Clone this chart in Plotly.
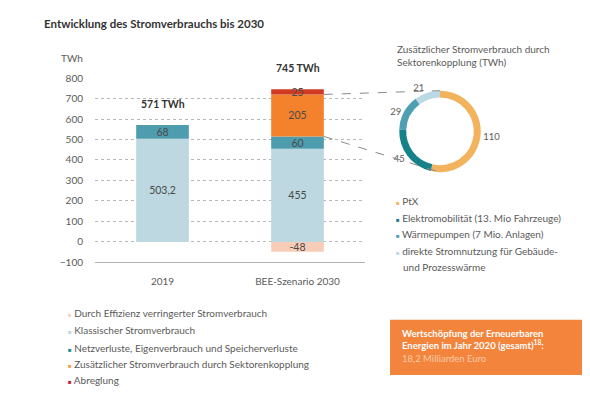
import plotly.graph_objects as go

# ---------------- data ----------------
categories = ["2019", "BEE-Szenario 2030"]
effizienz = [None, -48]
klassisch = [503.2, 455]
netz = [68, 60]
sektor = [None, 205]
abregelung = [None, 25]
y_tick_values = [-100, 0, 100, 200, 300, 400, 500, 600, 700, 800]

bar_series_names = [
    "Durch Effizienz verringerter Stromverbrauch",
    "Klassischer Stromverbrauch",
    "Netzverluste, Eigenverbrauch und Speicherverluste",
    "Zusätzlicher Stromverbrauch durch Sektorenkopplung",
    "Abreglung",
]

donut_labels = ["PtX", "Elektromobilität (13. Mio Fahrzeuge)",
                "Wärmepumpen (7 Mio. Anlagen)",
                "direkte Stromnutzung für Gebäude- und Prozesswärme"]
donut_values = [110, 45, 29, 21]

# ---------------- styling ----------------
PAGE_W, PAGE_H = 590, 410
OFF = 8                      # browser body margin
W, H = PAGE_W - OFF, PAGE_H - OFF
FONT = "Lato"
GRAY = "#5a5a5a"
bar_colors = ["#F7CDB8", "#BDD8E1", "#4E9DAF", "#F4822D", "#D13A22"]
legend_colors = ["#F5D5C5", "#BCD7E0", "#1D8A8F", "#F5A142", "#C0203A"]
donut_colors = ["#F3B35D", "#15818A", "#4F9FB3", "#BBD9E4"]


def px_x(p):
    return (p - OFF) / W


def px_y(p):
    return 1 - (p - OFF) / H


YMIN, YMAX = -100, 800
X_DOM = [px_x(95), px_x(365)]
Y_DOM = [px_y(263), px_y(73)]


def yval_to_paper(v):
    return Y_DOM[0] + (v - YMIN) / (YMAX - YMIN) * (Y_DOM[1] - Y_DOM[0])


def xval_to_paper(v):
    return X_DOM[0] + (v + 0.5) / 2.0 * (X_DOM[1] - X_DOM[0])


def fmt(v):
    return None if v is None else f"{v:g}".replace(".", ",")


BAR_W = 0.39
fig = go.Figure()
series = [effizienz, klassisch, netz, sektor, abregelung]
for name, vals, col in zip(bar_series_names, series, bar_colors):
    fig.add_trace(go.Bar(
        x=categories, y=vals, name=name, marker=dict(color=col, line=dict(width=0)),
        width=BAR_W, text=[fmt(v) for v in vals], textposition="inside",
        insidetextanchor="middle", constraintext="none",
        textfont=dict(family=FONT, size=10.5, color="#4a4a4a"),
        showlegend=False, hoverinfo="skip",
    ))

# donut
domain_x = [px_x(398), px_x(482)]
domain_y = [px_y(170), px_y(86)]
fig.add_trace(go.Pie(
    values=donut_values, labels=donut_labels, hole=0.83, sort=False,
    direction="clockwise", rotation=0, textposition="outside", textinfo="value",
    textfont=dict(family=FONT, size=9.5, color=GRAY),
    marker=dict(colors=donut_colors, line=dict(width=0)),
    domain=dict(x=domain_x, y=domain_y), showlegend=False, hoverinfo="skip",
))

annotations = []
# totals above bars
for i in range(len(categories)):
    tot = sum(v for v in (s[i] for s in series) if v is not None and v > 0)
    annotations.append(dict(x=i, y=tot, xref="x", yref="y", text=f"<b>{round(tot)} TWh</b>",
                            showarrow=False, yanchor="middle", yshift=21,
                            font=dict(family=FONT, size=10.5, color="#333")))

# title
annotations.append(dict(x=px_x(42), y=px_y(17), xref="paper", yref="paper", xanchor="left",
                        yanchor="middle", showarrow=False,
                        text="<b>Entwicklung des Stromverbrauchs bis 2030</b>",
                        font=dict(family=FONT, size=11.5, color="#333")))
# y unit
annotations.append(dict(x=px_x(85), y=px_y(52), xref="paper", yref="paper", xanchor="right",
                        yanchor="middle", showarrow=False, text="TWh",
                        font=dict(family=FONT, size=10, color=GRAY)))
# donut title
annotations.append(dict(x=px_x(395), y=px_y(35), xref="paper", yref="paper", xanchor="left",
                        yanchor="top", showarrow=False, align="left",
                        text="Zusätzlicher Stromverbrauch durch<br>Sektorenkopplung (TWh)",
                        font=dict(family=FONT, size=10, color=GRAY)))

# bar legend
rows_y = [315, 333, 351, 368, 384]
for name, col, ry in zip(bar_series_names, legend_colors, rows_y):
    annotations.append(dict(x=px_x(66), y=px_y(ry), xref="paper", yref="paper", xanchor="left",
                            yanchor="middle", showarrow=False,
                            text=f"<span style='color:{col};font-size:6px'>■</span> {name}",
                            font=dict(family=FONT, size=10, color=GRAY)))

# donut legend
d_rows = [200, 217, 234, 251]
for name, col, ry in zip(donut_labels, donut_colors, d_rows):
    first, _, rest = name.partition("Gebäude- ")
    if rest:
        first = first + "Gebäude-"
    annotations.append(dict(x=px_x(394), y=px_y(ry), xref="paper", yref="paper", xanchor="left",
                            yanchor="middle", showarrow=False,
                            text=f"<span style='color:{col};font-size:6px'>■</span> {first}",
                            font=dict(family=FONT, size=10, color=GRAY)))
    if rest:
        annotations.append(dict(x=px_x(401), y=px_y(ry + 17), xref="paper", yref="paper",
                                xanchor="left", yanchor="middle", showarrow=False, text=rest,
                                font=dict(family=FONT, size=10, color=GRAY)))

# orange box text
annotations.append(dict(x=px_x(400), y=px_y(329), xref="paper", yref="paper", xanchor="left",
                        yanchor="top", showarrow=False, align="left",
                        text="<b>Wertschöpfung der Erneuerbaren</b><br>"
                             "<b>Energien im Jahr 2020 (gesamt)<sup>18</sup>:</b><br>"
                             "<span style='color:#FCCBA8'>18,2 Milliarden Euro</span>",
                        font=dict(family=FONT, size=9.5, color="white")))

shapes = []
# orange box
shapes.append(dict(type="rect", xref="paper", yref="paper", x0=px_x(390), x1=1.0,
                   y0=px_y(379), y1=px_y(322), fillcolor="#F2843C", line=dict(width=0),
                   layer="below"))
# connector dashed lines from 2030 orange segment to donut
bar_right = xval_to_paper(1 + BAR_W / 2)
seg_bottom = klassisch[1] + netz[1]
seg_top = seg_bottom + sektor[1]
donut_cx = (domain_x[0] + domain_x[1]) / 2
shapes.append(dict(type="line", xref="paper", yref="paper", x0=bar_right, y0=yval_to_paper(seg_top),
                   x1=donut_cx, y1=domain_y[1], line=dict(color="#8a8a8a", width=1, dash="dash")))
shapes.append(dict(type="line", xref="paper", yref="paper", x0=bar_right, y0=yval_to_paper(seg_bottom),
                   x1=donut_cx, y1=domain_y[0], line=dict(color="#8a8a8a", width=1, dash="dash")))

fig.update_layout(
    width=W, height=H, autosize=False,
    margin=dict(l=0, r=0, t=0, b=0),
    paper_bgcolor="white", plot_bgcolor="white",
    barmode="relative",
    font=dict(family=FONT, size=10, color=GRAY),
    xaxis=dict(domain=X_DOM, range=[-0.5, 1.5], showgrid=False, zeroline=False,
               showline=True, linecolor="#b5b5b5", linewidth=1,
               ticks="outside", ticklen=10, tickcolor="rgba(0,0,0,0)",
               tickfont=dict(family=FONT, size=10, color=GRAY),
               fixedrange=True),
    yaxis=dict(domain=Y_DOM, range=[YMIN, YMAX], tickvals=y_tick_values,
               showgrid=True, gridcolor="#b8b8b8", griddash="dot", gridwidth=1,
               zeroline=False, showline=False,
               ticks="outside", ticklen=9, tickcolor="rgba(0,0,0,0)",
               tickfont=dict(family=FONT, size=10, color=GRAY),
               fixedrange=True),
    annotations=annotations,
    shapes=shapes,
)

fig.write_html("out.html")
